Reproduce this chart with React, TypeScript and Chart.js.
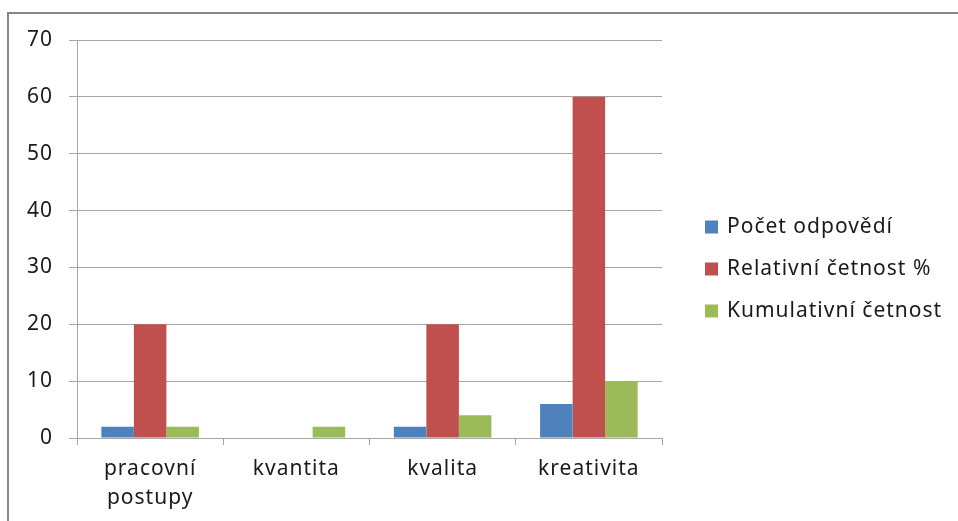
import React, { useEffect, useRef } from "react";
import { Chart, registerables } from "chart.js";

Chart.register(...registerables);

const categories: (string | string[])[] = [["pracovní", "postupy"], "kvantita", "kvalita", "kreativita"];
const pocetOdpovedi = [2, 0, 2, 6];
const relativniCetnost = [20, 0, 20, 60];
const kumulativniCetnost = [2, 2, 4, 10];
const seriesNames = ["Počet odpovědí", "Relativní četnost %", "Kumulativní četnost"];
const seriesColors = ["#4f81bd", "#c0504d", "#9bbb59"];

const FONT = "'Noto Sans', 'Open Sans', sans-serif";
const FSIZE = 21;

const textSpacing = {
  id: "textSpacing",
  beforeDraw(chart: any) {
    try {
      (chart.ctx as any).letterSpacing = "1px";
    } catch (e) {}
  },
};

const customLegend = {
  id: "customLegend",
  afterDraw(chart: any) {
    const ctx = chart.ctx;
    const x = chart.chartArea.right + 43;
    const cy = 269;
    const gap = 42;
    const n = chart.data.datasets.length;
    ctx.save();
    ctx.font = `${FSIZE}px ${FONT}`;
    try {
      ctx.letterSpacing = "1px";
    } catch (e) {}
    ctx.textBaseline = "middle";
    ctx.textAlign = "left";
    chart.data.datasets.forEach((ds: any, i: number) => {
      const y = cy + (i - (n - 1) / 2) * gap;
      ctx.fillStyle = ds.backgroundColor;
      ctx.fillRect(x, y - 6.5, 13, 13);
      ctx.fillStyle = "#1a1a1a";
      ctx.fillText(ds.label, x + 22, y);
    });
    ctx.restore();
  },
};

export default function App() {
  const ref = useRef<HTMLCanvasElement>(null);
  useEffect(() => {
    if (!ref.current) return;
    const data = [pocetOdpovedi, relativniCetnost, kumulativniCetnost];
    const chart = new Chart(ref.current, {
      type: "bar",
      data: {
        labels: categories,
        datasets: data.map((d, i) => ({
          label: seriesNames[i],
          data: d,
          backgroundColor: seriesColors[i],
          borderWidth: 0,
          categoryPercentage: 0.667,
          barPercentage: 1,
        })),
      },
      options: {
        animation: false,
        responsive: false,
        maintainAspectRatio: false,
        layout: { padding: { top: 40, right: 296, bottom: 0, left: 0 } },
        plugins: { legend: { display: false }, tooltip: { enabled: false } },
        scales: {
          x: {
            grid: {
              display: true,
              drawOnChartArea: false,
              offset: true,
              tickLength: 7,
              color: "#a6a6a6",
            },
            border: { color: "#a6a6a6", width: 1 },
            ticks: {
              color: "#1a1a1a",
              font: { family: FONT, size: FSIZE, lineHeight: 1.35 },
              padding: 10,
              maxRotation: 0,
              autoSkip: false,
            },
            afterFit(scale: any) {
              scale.height = 83;
            },
          },
          y: {
            min: 0,
            max: 70,
            ticks: {
              stepSize: 10,
              color: "#1a1a1a",
              font: { family: FONT, size: FSIZE },
              padding: 16,
            },
            grid: { color: "#a6a6a6", tickLength: 8 },
            border: { color: "#a6a6a6", width: 1 },
            afterFit(scale: any) {
              scale.width = 77;
            },
          },
        },
      },
      plugins: [textSpacing, customLegend],
    } as any);
    return () => chart.destroy();
  }, []);

  return (
    <div style={{ position: "fixed", left: 0, top: 0, width: 958, height: 521, overflow: "hidden", background: "#fff" }}>
      <div
        style={{
          position: "absolute",
          left: 7,
          top: 12,
          width: 1000,
          height: 600,
          borderLeft: "2px solid #868686",
          borderTop: "2px solid #868686",
        }}
      />
      <canvas ref={ref} width={958} height={521} style={{ position: "absolute", left: 0, top: 0 }} />
    </div>
  );
}
